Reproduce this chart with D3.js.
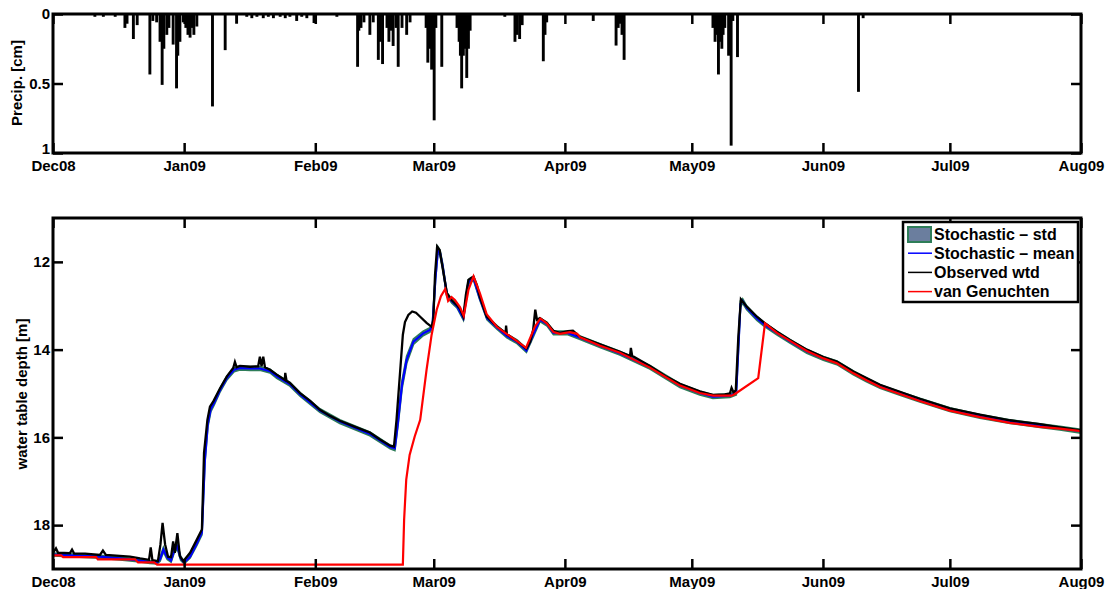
<!DOCTYPE html>
<html>
<head>
<meta charset="utf-8">
<script src="https://cdn.jsdelivr.net/npm/d3@7"></script>
<style>
  html, body { margin: 0; padding: 0; background: #fff; }
  svg text { font-family: "Liberation Sans", Arial, Helvetica, sans-serif; font-weight: bold; fill: #000; }
</style>
</head>
<body>
<svg id="chart" width="1108" height="589"></svg>
<script>
// Record runs from 1 Dec 2008 to 1 Aug 2009; times are days since the start of the record.
const recordStart = Date.UTC(2008, 11, 1);
const recordEnd = Date.UTC(2009, 7, 1);
const monthLabels = ["Dec08", "Jan09", "Feb09", "Mar09", "Apr09", "May09", "Jun09", "Jul09", "Aug09"];
const precipTicks = [0, 0.5, 1];
const precipTickLabels = ["0", "0.5", "1"];
const depthTicks = [12, 14, 16, 18];

// Hourly precipitation events [day, cm]
const precip = [
  [9.9, 0.02], [11.9, 0.02], [14.7, 0.02],
  [17.0, 0.10], [17.5, 0.07], [19.0, 0.18], [19.9, 0.08],
  [22.9, 0.435], [23.6, 0.05], [24.5, 0.06], [25.3, 0.20], [25.8, 0.51], [26.2, 0.25],
  [26.9, 0.15], [27.4, 0.10], [28.4, 0.22], [29.2, 0.535], [29.5, 0.30], [30.0, 0.20],
  [30.8, 0.06], [31.4, 0.10], [31.9, 0.15], [32.4, 0.17], [32.9, 0.10], [33.3, 0.15],
  [34.0, 0.09], [37.7, 0.665], [40.7, 0.26], [43.4, 0.07],
  [45.8, 0.02], [47.0, 0.03], [48.2, 0.02], [49.7, 0.03], [50.9, 0.02], [52.1, 0.03],
  [53.7, 0.02], [54.9, 0.03], [56.0, 0.02], [57.6, 0.05], [58.8, 0.02], [60.0, 0.03],
  [61.7, 0.065], [67.1, 0.02],
  [72.0, 0.38], [72.3, 0.12], [72.8, 0.10], [73.5, 0.06], [74.9, 0.15], [75.7, 0.06],
  [76.9, 0.33], [77.4, 0.20], [77.9, 0.36], [78.95, 0.10], [79.4, 0.20], [79.9, 0.12],
  [80.4, 0.23], [81.1, 0.10], [81.6, 0.38], [82.5, 0.10], [83.6, 0.15], [84.4, 0.06],
  [88.2, 0.10], [88.6, 0.35], [89.1, 0.25], [89.5, 0.40], [89.7, 0.20], [90.1, 0.765],
  [90.5, 0.10], [91.9, 0.38],
  [95.5, 0.10], [96.0, 0.20], [96.3, 0.30], [96.6, 0.535], [97.0, 0.30], [97.4, 0.25],
  [97.8, 0.46], [98.2, 0.25], [98.6, 0.12],
  [106.8, 0.02], [109.2, 0.20], [109.7, 0.15], [110.3, 0.18], [110.9, 0.08],
  [115.9, 0.34], [116.3, 0.15], [116.7, 0.06],
  [127.7, 0.05], [133.1, 0.227], [133.6, 0.10], [134.0, 0.07], [134.5, 0.15], [135.0, 0.33],
  [156.0, 0.10], [156.5, 0.20], [156.9, 0.15], [157.3, 0.435], [157.7, 0.20], [158.1, 0.25],
  [158.4, 0.15], [158.8, 0.10], [159.7, 0.30], [160.3, 0.947], [160.7, 0.05], [161.8, 0.31],
  [190.4, 0.56], [191.5, 0.03]
];

// Observed water table depth [day, m]
const observedWtd = [
  [0, 18.63], [0.7, 18.53], [1.2, 18.63], [4.0, 18.64], [4.5, 18.56], [5.0, 18.65], [7.6, 18.65],
  [11.1, 18.68], [11.8, 18.58], [12.5, 18.68], [18.2, 18.72], [20.6, 18.76], [22.7, 18.79],
  [23.1, 18.51], [23.5, 18.80], [24.8, 18.82], [25.4, 18.44], [25.9, 17.95], [26.5, 18.44],
  [27.2, 18.72], [27.9, 18.73], [28.4, 18.37], [28.8, 18.63], [29.4, 18.18], [30.0, 18.71],
  [30.8, 18.82], [32.4, 18.63], [34.0, 18.33], [35.2, 18.10], [35.7, 16.35], [36.5, 15.60],
  [37.1, 15.30], [37.9, 15.18], [39.5, 14.88], [41.1, 14.61], [42.6, 14.42], [43.0, 14.28],
  [43.4, 14.40], [44.2, 14.37], [46.6, 14.39], [48.5, 14.38], [48.9, 14.16], [49.3, 14.38],
  [49.7, 14.16], [50.1, 14.40], [51.3, 14.46], [52.9, 14.57], [54.8, 14.69], [54.9, 14.53],
  [55.2, 14.71], [56.0, 14.76], [58.4, 14.99], [60.8, 15.17], [63.1, 15.37], [65.5, 15.51],
  [67.8, 15.62], [71.4, 15.76], [74.9, 15.89], [77.3, 16.05], [79.7, 16.19], [80.6, 16.21],
  [81.2, 15.60], [82.0, 14.57], [82.7, 13.66], [83.2, 13.37], [84.0, 13.21], [84.9, 13.13],
  [85.8, 13.16], [86.8, 13.25], [88.3, 13.39], [89.5, 13.48], [89.9, 13.32], [90.3, 12.30],
  [90.8, 11.65], [91.4, 11.73], [91.9, 12.02], [93.1, 12.71], [94.2, 12.87], [95.4, 12.98],
  [96.2, 13.07], [97.0, 13.25], [97.6, 12.75], [98.2, 12.41], [98.8, 12.37], [99.4, 12.34],
  [100.2, 12.53], [100.9, 12.80], [102.5, 13.25], [104.9, 13.47], [107.0, 13.62], [107.1, 13.45],
  [107.3, 13.65], [109.6, 13.80], [111.9, 13.98], [112.8, 13.82], [113.5, 13.55], [114.0, 13.09],
  [114.4, 13.32], [115.1, 13.28], [116.7, 13.39], [118.3, 13.57], [119.8, 13.62], [121.7, 13.58],
  [122.9, 13.57], [124.6, 13.71], [129.3, 13.88], [134.0, 14.05], [136.4, 14.14], [136.6, 13.96],
  [136.9, 14.14], [141.1, 14.37], [144.7, 14.60], [148.2, 14.78], [152.9, 14.95], [156.0, 15.03],
  [158.8, 15.02], [160.0, 15.00], [160.4, 14.87], [160.9, 14.98], [161.4, 14.92], [162.0, 13.71],
  [162.6, 12.85], [164.0, 13.02], [166.4, 13.25], [168.3, 13.40], [171.1, 13.59], [174.2, 13.78],
  [178.2, 14.00], [182.1, 14.17], [185.3, 14.27], [189.2, 14.50], [192.3, 14.65], [195.5, 14.80],
  [200.2, 14.96], [204.9, 15.12], [212.0, 15.34], [219.1, 15.48], [226.2, 15.61], [233.3, 15.70],
  [238.0, 15.77], [243.0, 15.84]
];

// Stochastic model ensemble [day, mean m, std m]
const stochastic = [
  [0, 18.67, 0.03], [11.1, 18.72, 0.03], [15.8, 18.76, 0.03], [20.6, 18.81, 0.03], [22.9, 18.84, 0.03],
  [24.6, 18.85, 0.03], [25.3, 18.78, 0.04], [26.1, 18.56, 0.05], [27.0, 18.74, 0.04], [27.9, 18.81, 0.03],
  [28.6, 18.60, 0.04], [29.4, 18.49, 0.05], [30.2, 18.76, 0.04], [31.0, 18.85, 0.03], [32.4, 18.72, 0.03],
  [34.0, 18.42, 0.04], [35.2, 18.17, 0.05], [35.9, 16.51, 0.08], [36.6, 15.69, 0.07], [37.3, 15.35, 0.06],
  [38.1, 15.21, 0.05], [39.5, 14.92, 0.04], [41.1, 14.65, 0.04], [42.8, 14.46, 0.04], [44.2, 14.42, 0.04],
  [46.6, 14.43, 0.04], [48.9, 14.43, 0.04], [51.3, 14.49, 0.04], [52.9, 14.61, 0.04], [56.0, 14.79, 0.04],
  [58.4, 15.02, 0.04], [63.1, 15.39, 0.04], [67.8, 15.64, 0.04], [74.9, 15.92, 0.04], [79.7, 16.22, 0.04],
  [80.8, 16.25, 0.05], [81.6, 15.60, 0.08], [82.5, 14.80, 0.09], [83.6, 14.23, 0.08], [85.2, 13.82, 0.06],
  [87.5, 13.63, 0.05], [89.1, 13.55, 0.05], [89.7, 13.46, 0.05], [90.4, 12.37, 0.06], [91.0, 11.71, 0.05],
  [91.5, 11.80, 0.05], [92.1, 12.09, 0.05], [93.1, 12.74, 0.04], [94.3, 12.90, 0.04], [95.5, 13.01, 0.04],
  [97.0, 13.28, 0.04], [98.2, 12.46, 0.05], [99.4, 12.37, 0.04], [100.9, 12.83, 0.04], [102.6, 13.28, 0.04],
  [105.0, 13.50, 0.04], [107.3, 13.69, 0.04], [109.7, 13.82, 0.04], [111.9, 14.02, 0.04], [113.6, 13.64, 0.05],
  [115.1, 13.32, 0.04], [116.8, 13.42, 0.04], [118.3, 13.62, 0.04], [121.7, 13.62, 0.04], [124.6, 13.73, 0.04],
  [129.3, 13.91, 0.04], [134.0, 14.08, 0.04], [141.1, 14.40, 0.04], [148.2, 14.82, 0.04], [152.9, 14.99, 0.04],
  [156.0, 15.07, 0.04], [160.0, 15.05, 0.04], [161.5, 14.98, 0.05], [162.5, 12.96, 0.07], [163.0, 12.89, 0.05],
  [164.0, 13.05, 0.04], [166.4, 13.29, 0.04], [168.3, 13.44, 0.04], [171.1, 13.62, 0.04], [174.2, 13.81, 0.04],
  [178.2, 14.04, 0.04], [182.1, 14.20, 0.04], [185.3, 14.30, 0.04], [189.2, 14.53, 0.04], [192.3, 14.69, 0.04],
  [195.5, 14.84, 0.04], [200.2, 15.00, 0.04], [204.9, 15.15, 0.04], [212.0, 15.37, 0.04], [219.1, 15.52, 0.04],
  [226.2, 15.64, 0.04], [233.3, 15.73, 0.04], [238.0, 15.79, 0.04], [243.0, 15.86, 0.04]
];

// van Genuchten model [day, m]
const vanGenuchten = [
  [0, 18.69], [1.9, 18.69], [2.4, 18.73], [10.2, 18.73], [10.6, 18.78], [19.4, 18.78], [20.1, 18.85],
  [23.9, 18.85], [24.6, 18.90], [82.7, 18.90], [83.0, 17.87], [83.5, 16.96], [84.3, 16.40],
  [85.5, 15.98], [86.8, 15.60], [88.3, 14.46], [89.5, 13.66], [90.7, 13.09], [91.7, 12.78],
  [92.7, 12.62], [93.4, 12.89], [94.2, 12.80], [95.0, 12.87], [96.2, 13.03], [97.1, 13.23],
  [98.2, 12.64], [99.4, 12.33], [100.9, 12.71], [102.5, 13.19], [104.9, 13.48], [107.2, 13.64],
  [109.6, 13.80], [111.8, 13.96], [113.9, 13.48], [115.2, 13.29], [116.7, 13.40], [118.3, 13.60],
  [119.8, 13.64], [122.2, 13.60], [123.9, 13.64], [124.6, 13.72], [129.3, 13.91], [134.0, 14.07],
  [141.1, 14.41], [148.2, 14.82], [152.9, 14.99], [156.0, 15.05], [160.4, 15.05], [161.2, 15.01],
  [166.7, 14.65], [168.3, 13.40], [171.1, 13.62], [174.2, 13.80], [178.2, 14.03], [182.1, 14.20],
  [185.3, 14.31], [189.2, 14.54], [192.3, 14.70], [195.5, 14.85], [200.2, 15.01], [204.9, 15.17],
  [212.0, 15.39], [219.1, 15.54], [226.2, 15.67], [233.3, 15.76], [238.0, 15.80], [243.0, 15.86]
];

const legendItems = [
  { label: "Stochastic \u2013 std", kind: "patch" },
  { label: "Stochastic \u2013 mean", kind: "line", color: "#0000ff" },
  { label: "Observed wtd", kind: "line", color: "#000000" },
  { label: "van Genuchten", kind: "line", color: "#ff0000" }
];

const svg = d3.select("#chart");
const toDate = d => new Date(recordStart + d * 864e5);

const left = 53, right = 1081;
const topPanel = { y0: 14, y1: 153 };
const botPanel = { y0: 218, y1: 569 };

const x = d3.scaleUtc().domain([new Date(recordStart), new Date(recordEnd)]).range([left, right]);
const monthDates = d3.utcMonth.range(new Date(recordStart), new Date(recordEnd + 1));
const yP = d3.scaleLinear().domain([0, 1]).range([topPanel.y0, topPanel.y1]);
const yW = d3.scaleLinear().domain([11, 19]).range([botPanel.y0, botPanel.y1]);

const defs = svg.append("defs");
function clip(id, p) {
  defs.append("clipPath").attr("id", id)
    .append("rect").attr("x", left).attr("y", p.y0).attr("width", right - left).attr("height", p.y1 - p.y0);
}
clip("clipTop", topPanel);
clip("clipBot", botPanel);

// Axis helper: inward ticks on all four sides, labels left and bottom only
function drawAxes(p, yScale, yTicks, yFmt) {
  const tickLen = 10;
  const gb = svg.append("g").attr("transform", `translate(0,${p.y1})`)
    .call(d3.axisBottom(x).tickValues(monthDates).tickSizeInner(-tickLen).tickSizeOuter(0)
      .tickPadding(7).tickFormat((d, i) => monthLabels[i]));
  const gt = svg.append("g").attr("transform", `translate(0,${p.y0})`)
    .call(d3.axisTop(x).tickValues(monthDates).tickSizeInner(-tickLen).tickSizeOuter(0).tickFormat(""));
  const gl = svg.append("g").attr("transform", `translate(${left},0)`)
    .call(d3.axisLeft(yScale).tickValues(yTicks).tickSizeInner(-tickLen).tickSizeOuter(0)
      .tickPadding(3).tickFormat(yFmt));
  const gr = svg.append("g").attr("transform", `translate(${right},0)`)
    .call(d3.axisRight(yScale).tickValues(yTicks).tickSizeInner(-tickLen).tickSizeOuter(0).tickFormat(""));
  [gb, gt, gl, gr].forEach(g => {
    g.select(".domain").remove();
    g.selectAll(".tick line").attr("stroke", "#000").attr("stroke-width", 2.5);
    g.selectAll("text").attr("font-size", 15).attr("font-family", null).style("font-weight", "bold");
  });
  svg.append("rect").attr("x", left).attr("y", p.y0).attr("width", right - left).attr("height", p.y1 - p.y0)
    .attr("fill", "none").attr("stroke", "#000").attr("stroke-width", 3);
  return gl;
}

// ---- Precipitation panel ----
const gP = svg.append("g").attr("clip-path", "url(#clipTop)");
gP.selectAll("path.spike").data(precip).join("path")
  .attr("class", "spike")
  .attr("d", d => `M${x(toDate(d[0]))},${yP(0)}L${x(toDate(d[0]))},${yP(d[1])}`)
  .attr("stroke", "#000").attr("stroke-width", 2.9).attr("fill", "none");

const precipAxis = drawAxes(topPanel, yP, precipTicks, (d, i) => precipTickLabels[i]);
// bottom label sits just above the month labels
precipAxis.selectAll(".tick text").filter(d => d === 1).attr("dy", "0.05em");

svg.append("text").attr("transform", `translate(16,83) rotate(-90)`)
  .attr("text-anchor", "middle").attr("dominant-baseline", "central")
  .attr("font-size", 15).text("Precip. [cm]");

// ---- Water table depth panel ----
const gW = svg.append("g").attr("clip-path", "url(#clipBot)");

const band = d3.area()
  .x(d => x(toDate(d[0])))
  .y0(d => yW(d[1] - d[2]))
  .y1(d => yW(d[1] + d[2]));
gW.append("path").datum(stochastic).attr("d", band)
  .attr("fill", "#6b7e9e").attr("stroke", "#2e7d58").attr("stroke-width", 1.8);

const line = d3.line().x(d => x(toDate(d[0]))).y(d => yW(d[1]));
gW.append("path").datum(stochastic).attr("d", line)
  .attr("fill", "none").attr("stroke", "#0000ff").attr("stroke-width", 2.2);
gW.append("path").datum(observedWtd).attr("d", line)
  .attr("fill", "none").attr("stroke", "#000").attr("stroke-width", 2.3);
gW.append("path").datum(vanGenuchten).attr("d", line)
  .attr("fill", "none").attr("stroke", "#ff0000").attr("stroke-width", 2.2);

drawAxes(botPanel, yW, depthTicks, d3.format("d"));

svg.append("text").attr("transform", `translate(21,394) rotate(-90)`)
  .attr("text-anchor", "middle").attr("dominant-baseline", "central")
  .attr("font-size", 15).text("water table depth [m]");

// ---- Legend ----
const lg = svg.append("g").attr("transform", "translate(903,222)");
lg.append("rect").attr("width", 175).attr("height", 80)
  .attr("fill", "#fff").attr("stroke", "#000").attr("stroke-width", 2.5);
legendItems.forEach((it, i) => {
  const cy = 12 + i * 19.2;
  if (it.kind === "patch") {
    lg.append("rect").attr("x", 5).attr("y", cy - 7).attr("width", 23).attr("height", 15)
      .attr("fill", "#6b7e9e").attr("stroke", "#2e7d58").attr("stroke-width", 2);
  } else {
    lg.append("line").attr("x1", 5).attr("x2", 29).attr("y1", cy).attr("y2", cy)
      .attr("stroke", it.color).attr("stroke-width", 1.5);
  }
  lg.append("text").attr("x", 31).attr("y", cy).attr("dominant-baseline", "central")
    .attr("font-size", 16).text(it.label);
});
</script>
</body>
</html>
